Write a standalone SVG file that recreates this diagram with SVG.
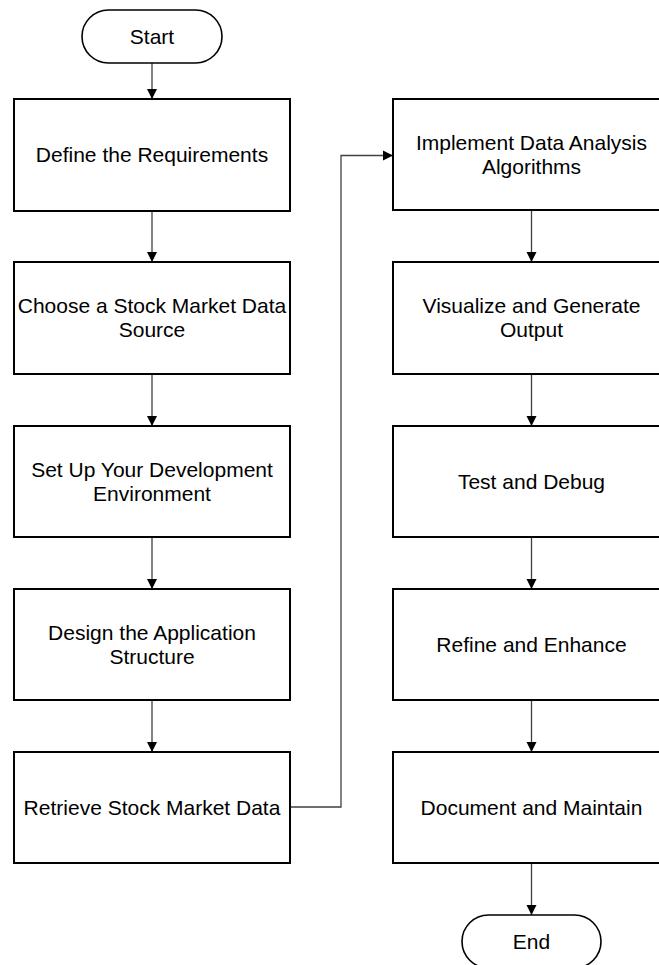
<svg xmlns="http://www.w3.org/2000/svg" width="659" height="965" viewBox="0 0 659 965">
<style>
.box{fill:#fff;stroke:#000;stroke-width:2}
.term{fill:#fff;stroke:#000;stroke-width:1.6}
.lbl{font-family:"Liberation Sans",Arial,sans-serif;font-size:21px;fill:#000;text-anchor:middle}
.conn{fill:none;stroke:#404040;stroke-width:1.3}
</style>
<defs>
<marker id="arr" viewBox="0 0 10 10" refX="10" refY="5" markerWidth="10" markerHeight="11" orient="auto" markerUnits="userSpaceOnUse">
<path d="M0,0 L10,5 L0,10 z" fill="#000"/>
</marker>
</defs>
<rect width="659" height="965" fill="#fff"/>
<g id="connectors">
<line class="conn" x1="152" y1="63" x2="152" y2="99" marker-end="url(#arr)"/>
<line class="conn" x1="152" y1="211" x2="152" y2="262" marker-end="url(#arr)"/>
<line class="conn" x1="152" y1="374" x2="152" y2="426" marker-end="url(#arr)"/>
<line class="conn" x1="152" y1="537" x2="152" y2="589" marker-end="url(#arr)"/>
<line class="conn" x1="152" y1="700" x2="152" y2="752" marker-end="url(#arr)"/>
<path class="conn" d="M290,807 H341 V155.5 H393" marker-end="url(#arr)"/>
<line class="conn" x1="531.5" y1="210" x2="531.5" y2="262" marker-end="url(#arr)"/>
<line class="conn" x1="531.5" y1="374" x2="531.5" y2="426" marker-end="url(#arr)"/>
<line class="conn" x1="531.5" y1="537" x2="531.5" y2="589" marker-end="url(#arr)"/>
<line class="conn" x1="531.5" y1="700" x2="531.5" y2="752" marker-end="url(#arr)"/>
<line class="conn" x1="531.5" y1="863" x2="531.5" y2="915" marker-end="url(#arr)"/>
</g>
<g id="start">
<rect class="term" x="82" y="10" width="140" height="53" rx="26.5"/>
<text class="lbl" x="152" y="44">Start</text>
</g>
<g id="n1">
<rect class="box" x="14" y="99" width="276" height="112"/>
<text class="lbl" x="152" y="162">Define the Requirements</text>
</g>
<g id="n2">
<rect class="box" x="14" y="262" width="276" height="112"/>
<text class="lbl" x="152" y="313">Choose a Stock Market Data</text>
<text class="lbl" x="152" y="337">Source</text>
</g>
<g id="n3">
<rect class="box" x="14" y="426" width="276" height="111"/>
<text class="lbl" x="152" y="477">Set Up Your Development</text>
<text class="lbl" x="152" y="501">Environment</text>
</g>
<g id="n4">
<rect class="box" x="14" y="589" width="276" height="111"/>
<text class="lbl" x="152" y="640">Design the Application</text>
<text class="lbl" x="152" y="664">Structure</text>
</g>
<g id="n5">
<rect class="box" x="14" y="752" width="276" height="111"/>
<text class="lbl" x="152" y="815">Retrieve Stock Market Data</text>
</g>
<g id="n6">
<rect class="box" x="393" y="99" width="277" height="111"/>
<text class="lbl" x="531.5" y="150">Implement Data Analysis</text>
<text class="lbl" x="531.5" y="174">Algorithms</text>
</g>
<g id="n7">
<rect class="box" x="393" y="262" width="277" height="112"/>
<text class="lbl" x="531.5" y="313">Visualize and Generate</text>
<text class="lbl" x="531.5" y="337">Output</text>
</g>
<g id="n8">
<rect class="box" x="393" y="426" width="277" height="111"/>
<text class="lbl" x="531.5" y="489">Test and Debug</text>
</g>
<g id="n9">
<rect class="box" x="393" y="589" width="277" height="111"/>
<text class="lbl" x="531.5" y="652">Refine and Enhance</text>
</g>
<g id="n10">
<rect class="box" x="393" y="752" width="277" height="111"/>
<text class="lbl" x="531.5" y="815">Document and Maintain</text>
</g>
<g id="end">
<rect class="term" x="462" y="915" width="139" height="53" rx="26.5"/>
<text class="lbl" x="531.5" y="949">End</text>
</g>
</svg>
